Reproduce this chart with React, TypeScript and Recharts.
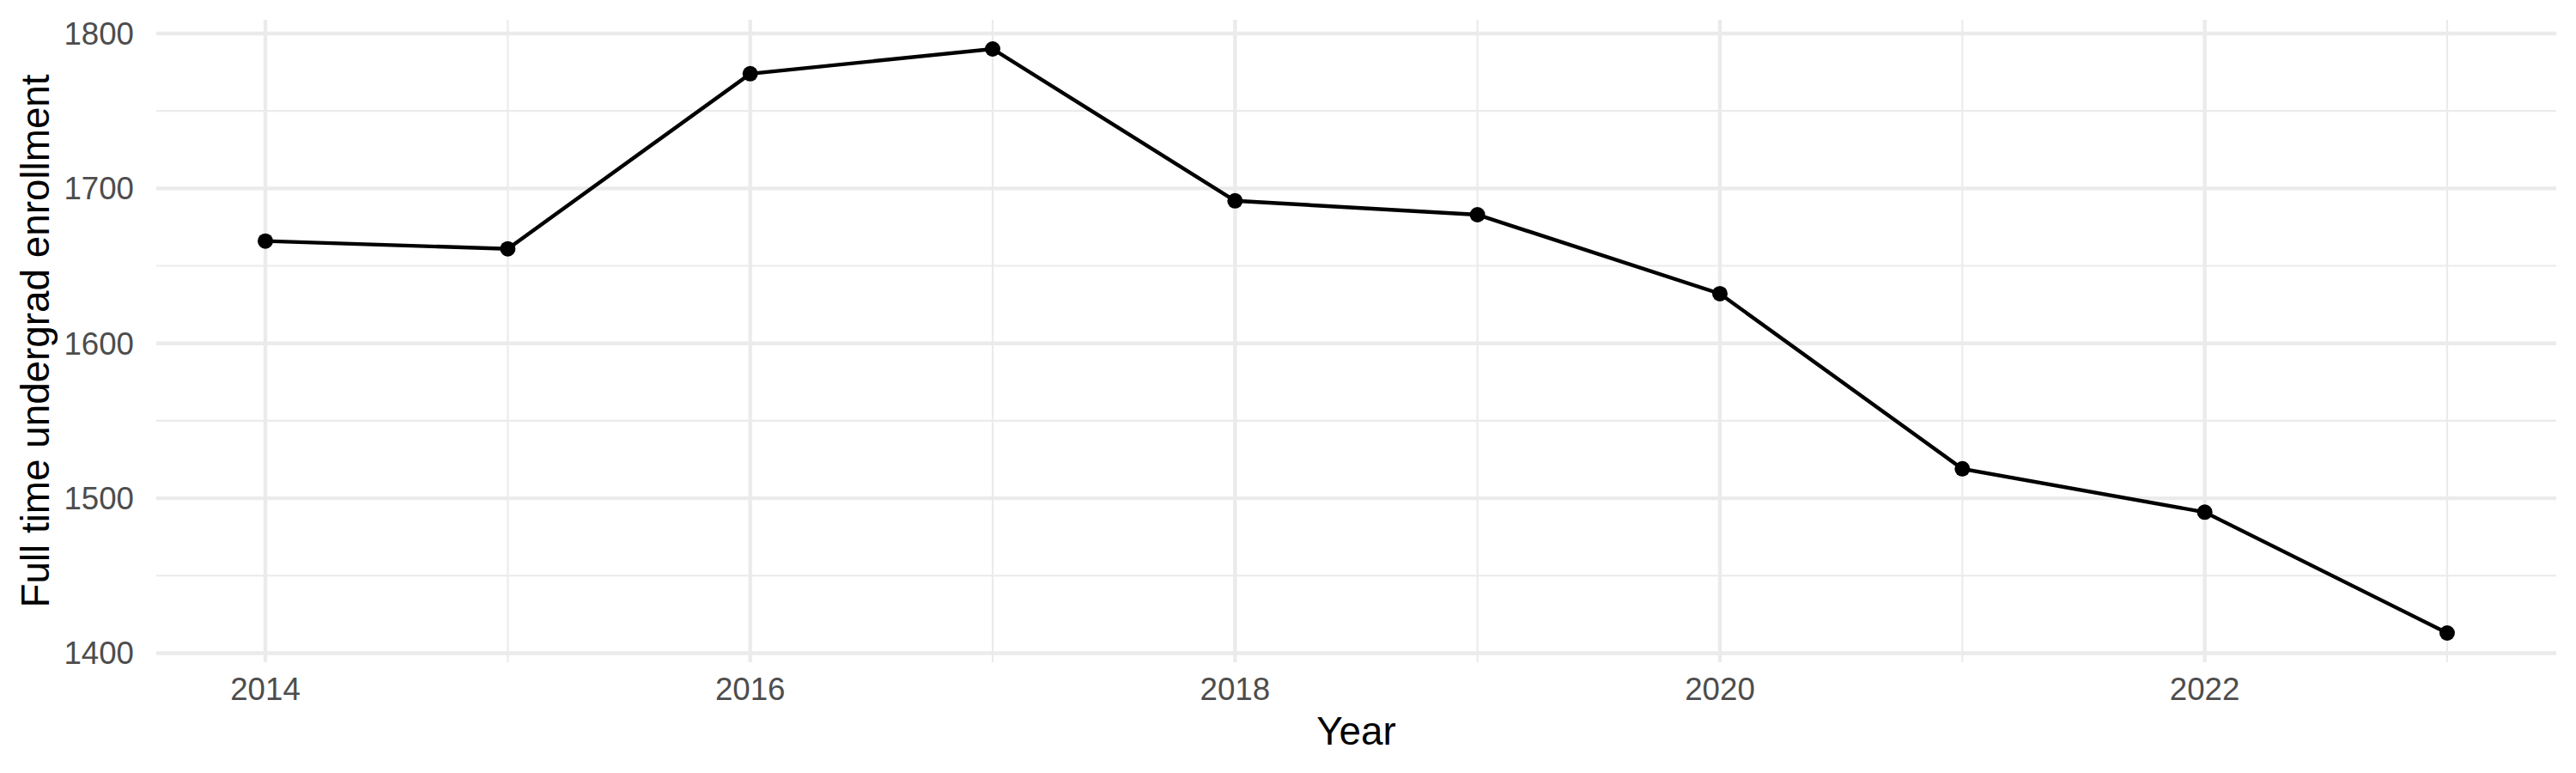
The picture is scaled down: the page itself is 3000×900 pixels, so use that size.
import { CartesianGrid, Label, Line, LineChart, XAxis, YAxis } from 'recharts'

const years = [2014, 2015, 2016, 2017, 2018, 2019, 2020, 2021, 2022, 2023]
const enrollment = [1666, 1661, 1774, 1790, 1692, 1683, 1632, 1519, 1491, 1413]

const xTicks = [2014, 2016, 2018, 2020, 2022]
const xMinor = [2015, 2017, 2019, 2021, 2023]
const yTicks = [1400, 1500, 1600, 1700, 1800]
const yMinor = [1450, 1550, 1650, 1750]

const data = years.map((year, i) => ({ year, value: enrollment[i] }))

// ggplot-style 5% expansion on both scales
const pad = (lo: number, hi: number): [number, number] => {
  const e = (hi - lo) * 0.05
  return [lo - e, hi + e]
}
const xDomain = pad(Math.min(...years), Math.max(...years))
const yDomain = pad(Math.min(...enrollment), Math.max(...enrollment))

const FONT = '"Liberation Sans", Arial, Helvetica, sans-serif'
const GRID = '#EBEBEB'
const TICK = { fill: '#4D4D4D', fontSize: 36.7, fontFamily: FONT }

export default function App() {
  return (
    <div style={{ width: 3000, height: 900, background: '#fff' }}>
      <style>{'body{margin:0}'}</style>
      <LineChart width={3000} height={900} data={data} margin={{ top: 23, right: 23, left: 0, bottom: 0 }}>
        <CartesianGrid stroke={GRID} strokeWidth={2.2} horizontalValues={yMinor} verticalValues={xMinor} />
        <CartesianGrid stroke={GRID} strokeWidth={4.4} horizontalValues={yTicks} verticalValues={xTicks} />
        <XAxis
          dataKey="year"
          type="number"
          domain={xDomain}
          ticks={xTicks}
          height={129}
          axisLine={false}
          tickLine={false}
          tickSize={0}
          tickMargin={18}
          tick={TICK}
        >
          <Label
            content={({ viewBox }: any) => (
              <text
                x={viewBox.x + viewBox.width / 2}
                y={867}
                textAnchor="middle"
                fontSize={45.8}
                fontFamily={FONT}
                fill="#000"
              >
                Year
              </text>
            )}
          />
        </XAxis>
        <YAxis
          type="number"
          domain={yDomain}
          ticks={yTicks}
          width={182}
          axisLine={false}
          tickLine={false}
          tickSize={0}
          tickMargin={26}
          tick={TICK}
        >
          <Label
            content={({ viewBox }: any) => {
              const cy = viewBox.y + viewBox.height / 2
              return (
                <text
                  x={57}
                  y={cy}
                  transform={`rotate(-90, 57, ${cy})`}
                  textAnchor="middle"
                  fontSize={45.8}
                  fontFamily={FONT}
                  fill="#000"
                >
                  Full time undergrad enrollment
                </text>
              )
            }}
          />
        </YAxis>
        <Line
          type="linear"
          dataKey="value"
          stroke="#000"
          strokeWidth={4.4}
          dot={{ r: 9, fill: '#000', stroke: 'none' }}
          activeDot={false}
          isAnimationActive={false}
        />
      </LineChart>
    </div>
  )
}
